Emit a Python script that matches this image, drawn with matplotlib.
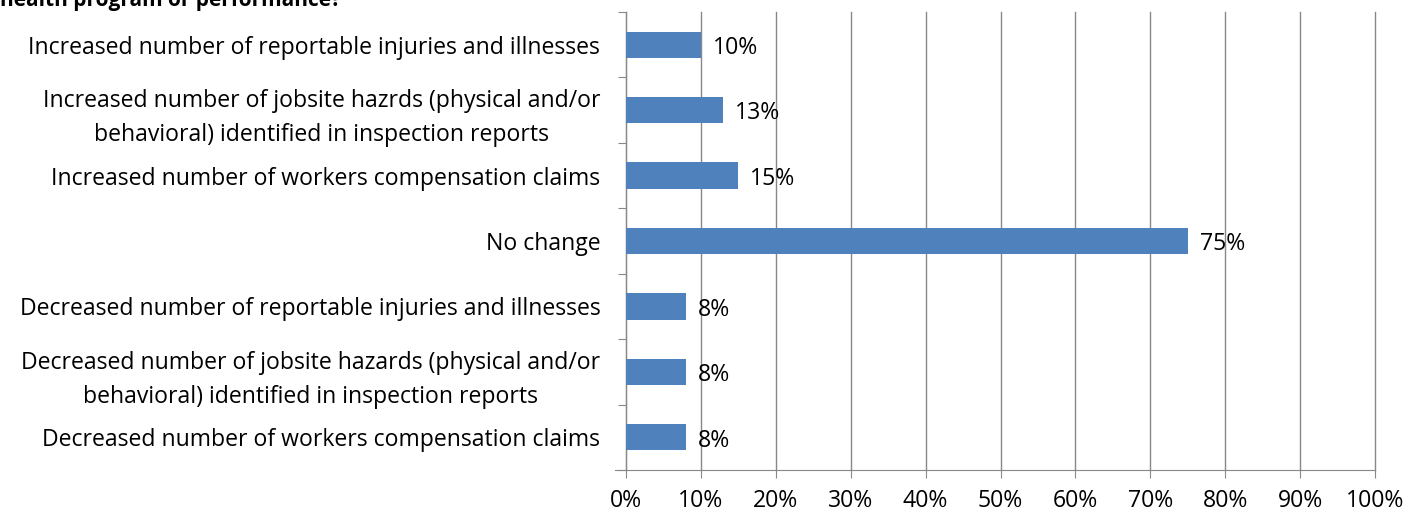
import matplotlib
matplotlib.use("Agg")
import matplotlib.pyplot as plt

categories = [
    "Increased number of reportable injuries and illnesses",
    "Increased number of jobsite hazrds (physical and/or\nbehavioral) identified in inspection reports",
    "Increased number of workers compensation claims",
    "No change",
    "Decreased number of reportable injuries and illnesses",
    "Decreased number of jobsite hazards (physical and/or\nbehavioral) identified in inspection reports",
    "Decreased number of workers compensation claims",
]
values = [10, 13, 15, 75, 8, 8, 8]
xticks = [0, 10, 20, 30, 40, 50, 60, 70, 80, 90, 100]

plt.rcParams["font.family"] = ["Open Sans", "DejaVu Sans"]
fs = 16.6

fig = plt.figure(figsize=(14.19, 5.16), dpi=100)
ax = fig.add_axes([626 / 1419, 46 / 516, 749 / 1419, 458 / 516])

pos = list(range(len(categories)))
ax.barh(pos, values, height=0.4, color="#4f81bd", zorder=3)
for p, v in zip(pos, values):
    ax.text(v + 1.6, p + 0.05, f"{v}%", va="center", ha="left", fontsize=fs, zorder=4)

ax.set_ylim(len(categories) - 0.5, -0.5)
ax.set_xlim(0, 100)
ax.set_yticks([p - 0.5 for p in pos] + [len(categories) - 0.5])
ax.set_yticklabels([])
ax.set_yticks(pos, minor=True)
ax.set_yticklabels(categories, minor=True, fontsize=fs, ha="right",
                   multialignment="center", linespacing=1.55)
ax.tick_params(axis="y", which="minor", length=0, pad=18.5)
ax.tick_params(axis="y", which="major", length=6, color="#888888")

ax.set_xticks(xticks)
ax.set_xticklabels([f"{t}%" for t in xticks], fontsize=fs)
ax.tick_params(axis="x", length=6, color="#888888", pad=8, direction="out")
ax.grid(axis="x", color="#888888", linewidth=1, zorder=0)
for gl in ax.get_xgridlines():
    gl.set_clip_on(False)

for s in ["top", "right"]:
    ax.spines[s].set_visible(False)
ax.spines["left"].set_color("#888888")
ax.spines["bottom"].set_color("#888888")
ax.spines["bottom"].set_bounds(-1.5, 100)

# title is cut off by the top edge in the source image
fig.text(0.0, 1 - 6 / 516, "health program or performance?", fontsize=15, fontweight="bold",
         ha="left", va="baseline")

fig.savefig("out.png", dpi=100)
